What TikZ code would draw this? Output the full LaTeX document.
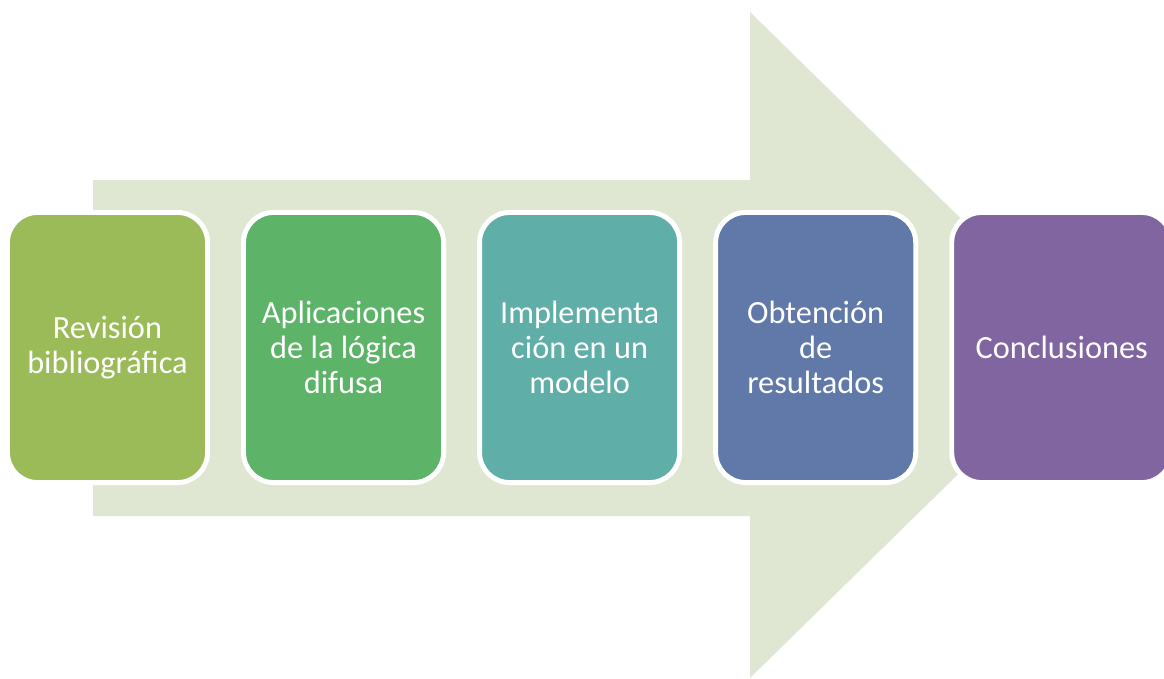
\documentclass[tikz,border=0pt]{standalone}
\usepackage{fontspec}
\setmainfont{Carlito}
\usetikzlibrary{positioning}
\definecolor{ArrowGreen}{HTML}{DFE7D3}
\definecolor{Olive}{HTML}{9BBB59}
\definecolor{LeafGreen}{HTML}{5DB468}
\definecolor{SeaTeal}{HTML}{5FAEA7}
\definecolor{SteelBlue}{HTML}{6079A9}
\definecolor{Plum}{HTML}{8065A1}

\begin{document}
\begin{tikzpicture}[x=0.025cm, y=-0.025cm,
    stage/.style={draw=white, line width=3.5pt, rounded corners=0.75cm,
                  minimum width=5cm, minimum height=6.75cm, outer sep=0pt,
                  text=white, align=center, font=\fontsize{23}{25}\selectfont},
    node distance=0.9cm]
\useasboundingbox (0,0) rectangle (1164,678);
% big background arrow
\fill[ArrowGreen] (93,180) -- (750,180) -- (750,12) -- (1090,345)
    -- (750,678) -- (750,516) -- (93,516) -- cycle;
% stages
\node[stage, fill=Olive] (revision) at (107.5,347.5) {Revisión\\bibliográfica};
\node[stage, fill=LeafGreen, right=of revision] (aplicaciones) {Aplicaciones\\de la lógica\\difusa};
\node[stage, fill=SeaTeal, right=of aplicaciones] (implementacion) {Implementa\\ción en un\\modelo};
\node[stage, fill=SteelBlue, right=of implementacion] (obtencion) {Obtención\\de\\resultados};
\node[stage, fill=Plum, minimum width=5.5cm, right=of obtencion] (conclusiones) {Conclusiones};
\end{tikzpicture}
\end{document}
